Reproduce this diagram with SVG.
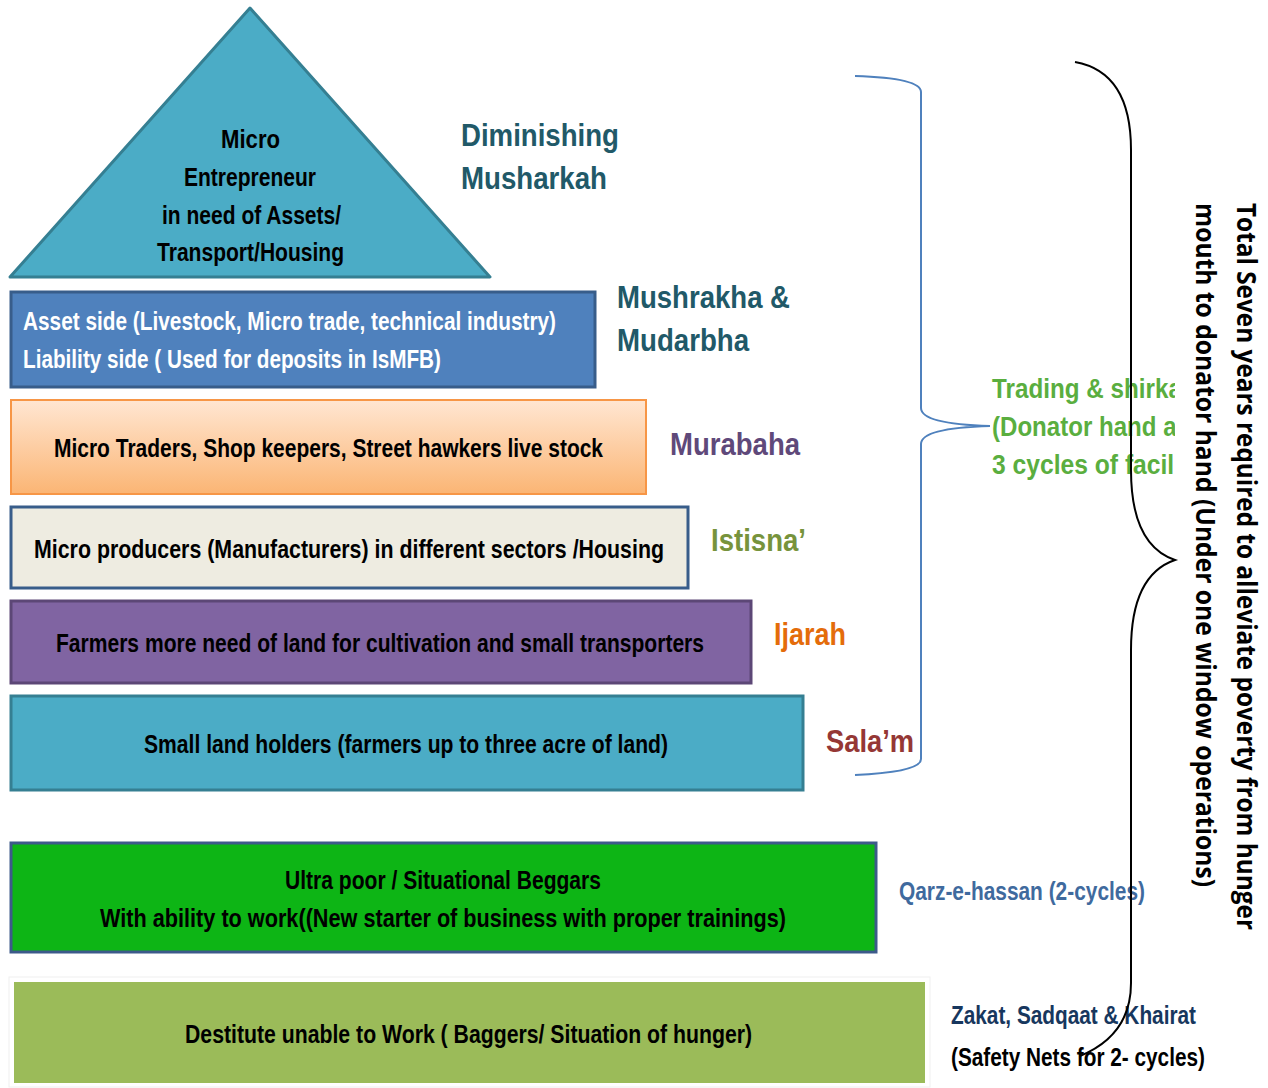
<svg xmlns="http://www.w3.org/2000/svg" width="1268" height="1088" viewBox="0 0 1268 1088">
<style>
.bt{font-family:"Liberation Sans",Arial,sans-serif;font-weight:bold;font-size:26px;fill:#000}
.wt{fill:#fff}
.lb{font-family:"Liberation Sans",Arial,sans-serif;font-weight:bold;font-size:32px}
.sm{font-family:"Liberation Sans",Arial,sans-serif;font-weight:bold;font-size:26px}
.vt{font-family:"Open Sans","Liberation Sans",sans-serif;font-weight:bold;font-size:26px;fill:#000}
</style>
<defs>
<linearGradient id="og" x1="0" y1="0" x2="0" y2="1">
<stop offset="0" stop-color="#FFE6D2"/>
<stop offset="1" stop-color="#FBB574"/>
</linearGradient>
<clipPath id="clipT"><rect x="980" y="360" width="195" height="130"/></clipPath>
</defs>
<rect width="1268" height="1088" fill="#fff"/>

<g id="apex">
<polygon points="250,8 490,277 10,277" fill="#4BACC6" stroke="#357F92" stroke-width="3" stroke-linejoin="round"/>
<text class="bt" transform="translate(221,148) scale(0.8,1)" textLength="73.8" lengthAdjust="spacingAndGlyphs">Micro</text>
<text class="bt" transform="translate(184,186) scale(0.8,1)" textLength="165" lengthAdjust="spacingAndGlyphs">Entrepreneur</text>
<text class="bt" transform="translate(162,224) scale(0.8,1)" textLength="223.8" lengthAdjust="spacingAndGlyphs">in need of Assets/</text>
<text class="bt" transform="translate(157,261) scale(0.8,1)" textLength="233.8" lengthAdjust="spacingAndGlyphs">Transport/Housing</text>
</g>

<g id="asset">
<rect x="11" y="292" width="584" height="95" fill="#4F81BD" stroke="#385D8A" stroke-width="3"/>
<text class="bt wt" transform="translate(23,330) scale(0.8,1)" textLength="666.3" lengthAdjust="spacingAndGlyphs">Asset side (Livestock, Micro trade, technical industry)</text>
<text class="bt wt" transform="translate(23,368) scale(0.8,1)" textLength="522.5" lengthAdjust="spacingAndGlyphs">Liability side ( Used for deposits in IsMFB)</text>
</g>

<g id="traders">
<rect x="11" y="400" width="635" height="94" fill="url(#og)" stroke="#F79646" stroke-width="2"/>
<text class="bt" transform="translate(54,457) scale(0.8,1)" textLength="686.3" lengthAdjust="spacingAndGlyphs">Micro Traders, Shop keepers, Street hawkers  live stock</text>
</g>

<g id="producers">
<rect x="11" y="507" width="677" height="81" fill="#EEECE1" stroke="#385D8A" stroke-width="3"/>
<text class="bt" transform="translate(34,558) scale(0.8,1)" textLength="787.5" lengthAdjust="spacingAndGlyphs">Micro producers (Manufacturers) in different  sectors /Housing</text>
</g>

<g id="farmers">
<rect x="11" y="601" width="740" height="82" fill="#8064A2" stroke="#5C4776" stroke-width="3"/>
<text class="bt" transform="translate(56,652) scale(0.8,1)" textLength="810" lengthAdjust="spacingAndGlyphs">Farmers more need of land for cultivation and small transporters</text>
</g>

<g id="landholders">
<rect x="11" y="696" width="792" height="94" fill="#4BACC6" stroke="#357F92" stroke-width="3"/>
<text class="bt" transform="translate(144,753) scale(0.8,1)" textLength="655" lengthAdjust="spacingAndGlyphs">Small land holders (farmers up to three acre of land)</text>
</g>

<g id="ultrapoor">
<rect x="11" y="843" width="865" height="109" fill="#0DB515" stroke="#3D5A8A" stroke-width="3"/>
<text class="bt" transform="translate(285,889) scale(0.8,1)" textLength="395" lengthAdjust="spacingAndGlyphs">Ultra poor / Situational Beggars</text>
<text class="bt" transform="translate(100,927) scale(0.8,1)" textLength="857.5" lengthAdjust="spacingAndGlyphs">With ability to work((New  starter of business  with proper trainings)</text>
</g>

<g id="destitute">
<rect x="9" y="977" width="921" height="110" fill="#fff" stroke="#f0f0f0" stroke-width="1"/>
<rect x="14" y="982" width="911" height="101" fill="#9BBB59"/>
<text class="bt" transform="translate(185,1043) scale(0.8,1)" textLength="708.8" lengthAdjust="spacingAndGlyphs">Destitute unable to Work ( Baggers/ Situation of hunger)</text>
</g>

<g id="labels">
<text class="lb" transform="translate(461,146) scale(0.86,1)" fill="#215968" textLength="183.7" lengthAdjust="spacingAndGlyphs">Diminishing</text>
<text class="lb" transform="translate(461,189) scale(0.86,1)" fill="#215968" textLength="169.8" lengthAdjust="spacingAndGlyphs">Musharkah</text>
<text class="lb" transform="translate(617,308) scale(0.86,1)" fill="#215968" textLength="201.2" lengthAdjust="spacingAndGlyphs">Mushrakha &amp;</text>
<text class="lb" transform="translate(617,351) scale(0.86,1)" fill="#215968" textLength="153.5" lengthAdjust="spacingAndGlyphs">Mudarbha</text>
<text class="lb" transform="translate(670,455) scale(0.86,1)" fill="#5F497A" textLength="151.2" lengthAdjust="spacingAndGlyphs">Murabaha</text>
<text class="lb" transform="translate(711,551) scale(0.86,1)" fill="#77933C" textLength="110.5" lengthAdjust="spacingAndGlyphs">Istisna’</text>
<text class="lb" transform="translate(774,645) scale(0.86,1)" fill="#E46C0A" textLength="83.7" lengthAdjust="spacingAndGlyphs">Ijarah</text>
<text class="lb" transform="translate(826,752) scale(0.86,1)" fill="#953735" textLength="102.3" lengthAdjust="spacingAndGlyphs">Sala’m</text>
<g clip-path="url(#clipT)">
<g fill="#5AAE3F" class="sm" style="font-size:28px">
<text transform="translate(992,398) scale(0.86,1)" textLength="230.2" lengthAdjust="spacingAndGlyphs">Trading &amp; shirkat</text>
<text transform="translate(992,436) scale(0.86,1)" textLength="248.8" lengthAdjust="spacingAndGlyphs">(Donator hand and</text>
<text transform="translate(992,474) scale(0.86,1)" textLength="245.3" lengthAdjust="spacingAndGlyphs">3 cycles of facility</text>
</g>
</g>
<text class="sm" transform="translate(899,900) scale(0.86,1)" fill="#3F6A9E" textLength="286" lengthAdjust="spacingAndGlyphs">Qarz-e-hassan (2-cycles)</text>
<text class="sm" transform="translate(951,1024) scale(0.86,1)" fill="#17375E" textLength="284.9" lengthAdjust="spacingAndGlyphs">Zakat, Sadqaat &amp; Khairat</text>
<text class="sm" transform="translate(951,1066) scale(0.86,1)" fill="#000" textLength="295.3" lengthAdjust="spacingAndGlyphs">(Safety Nets for 2- cycles)</text>
<text class="vt" transform="translate(1237,203) rotate(90)" textLength="727" lengthAdjust="spacingAndGlyphs">Total Seven years required to alleviate poverty from hunger</text>
<text class="vt" transform="translate(1196,203) rotate(90)" textLength="684" lengthAdjust="spacingAndGlyphs">mouth to donator hand (Under one window operations)</text>
</g>

<g id="connectors" fill="none">
<path d="M855,76 Q921,78 921,92 L921,408 Q921,424 990,426 Q921,428 921,444 L921,759 Q921,772 855,775" stroke="#4F81BD" stroke-width="2"/>
<path d="M1075,62 Q1131,72 1131,150 L1131,470 Q1131,545 1175,560 Q1131,575 1131,650 L1131,983 Q1131,1035 1080,1056" stroke="#000" stroke-width="2"/>
</g>
</svg>
